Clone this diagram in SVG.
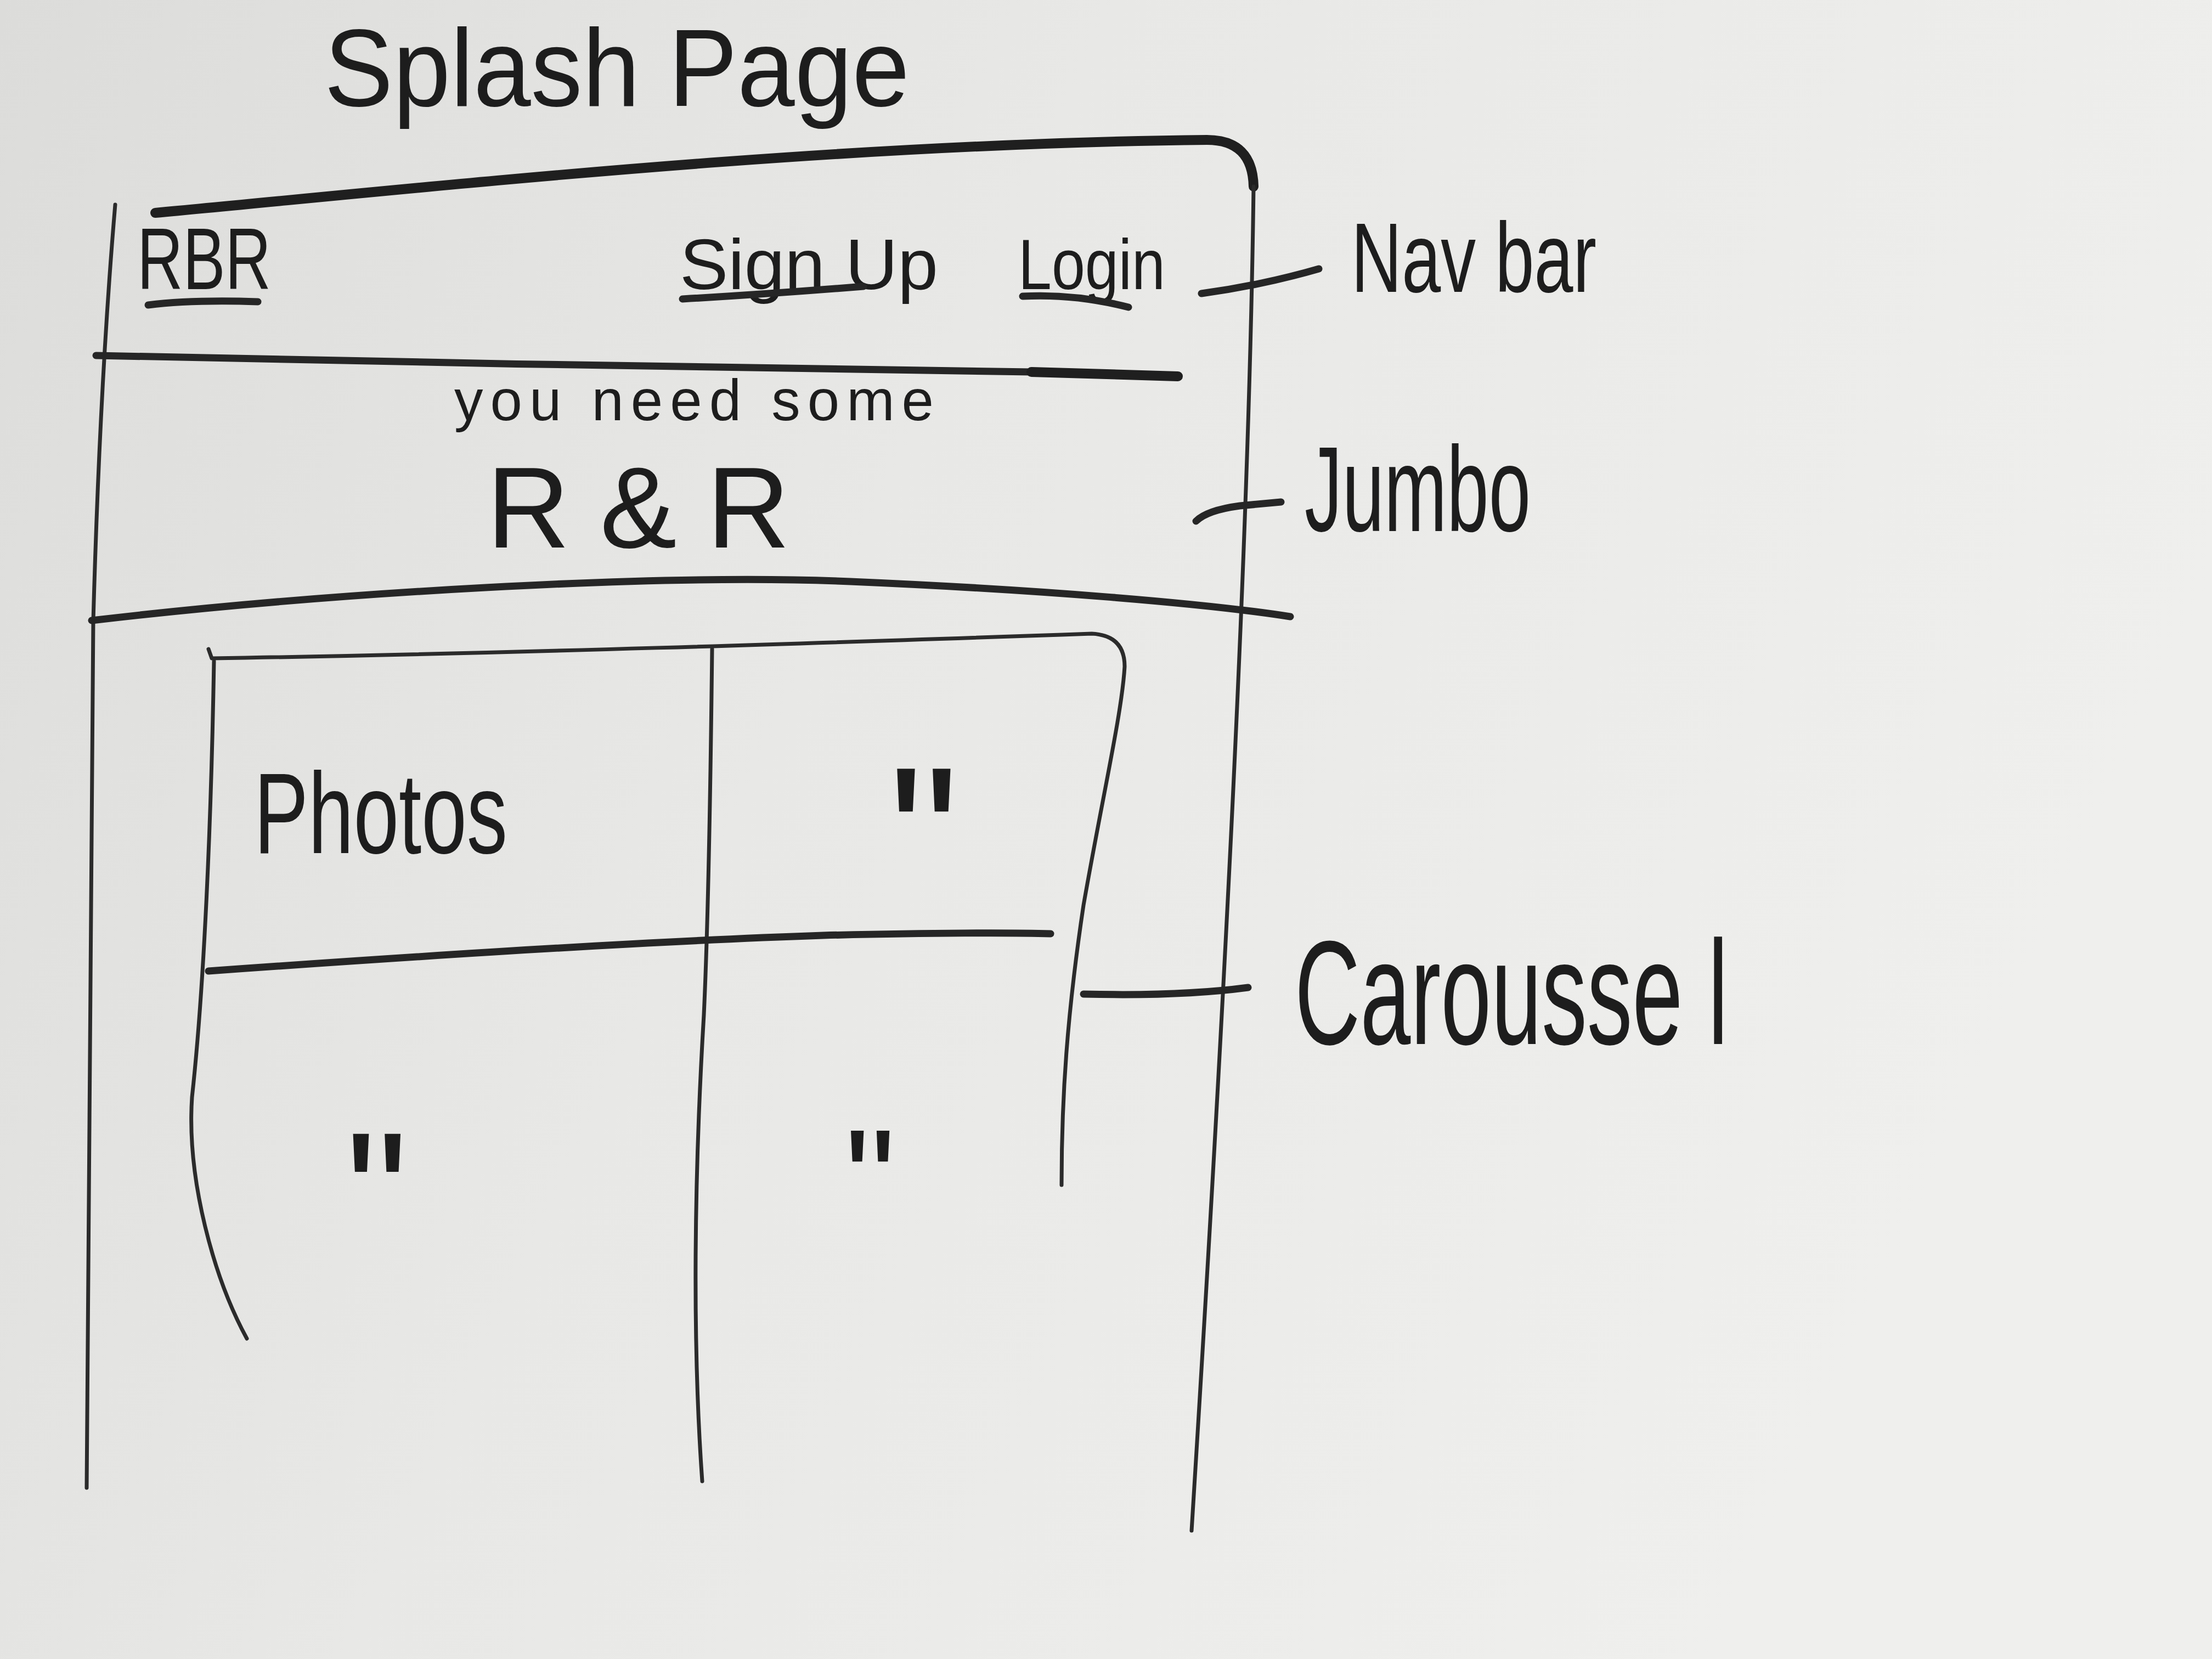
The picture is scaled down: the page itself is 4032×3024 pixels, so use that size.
<svg xmlns="http://www.w3.org/2000/svg" width="4032" height="3024" viewBox="0 0 4032 3024">
  <defs>
    <linearGradient id="paper" x1="0" y1="0" x2="1" y2="0.35">
      <stop offset="0" stop-color="#dcdcda"/>
      <stop offset="0.45" stop-color="#e8e8e6"/>
      <stop offset="1" stop-color="#efefed"/>
    </linearGradient>
    <linearGradient id="fadeDown" x1="0" y1="0" x2="0" y2="1">
      <stop offset="0" stop-color="#2a2a2a" stop-opacity="1"/>
      <stop offset="0.85" stop-color="#2a2a2a" stop-opacity="0.9"/>
      <stop offset="1" stop-color="#2a2a2a" stop-opacity="0.25"/>
    </linearGradient>
  </defs>
  <style>
    .thin { fill: none; stroke: #2b2b2b; stroke-width: 7; stroke-linecap: round; stroke-linejoin: round; }
    .marker { fill: none; stroke: #262626; stroke-width: 13; stroke-linecap: round; stroke-linejoin: round; }
    .heavy { fill: none; stroke: #1f1f1f; stroke-width: 18; stroke-linecap: round; stroke-linejoin: round; }
    .hand { font-family: "Liberation Sans", "DejaVu Sans", sans-serif; fill: #1d1d1d; }
  </style>

  <rect x="0" y="0" width="4032" height="3024" fill="url(#paper)"/>

  <g id="title">
    <text class="hand" x="591" y="193" font-size="200" textLength="1067" lengthAdjust="spacingAndGlyphs">Splash Page</text>
  </g>

  <g id="page-frame">
    <path class="heavy" d="M283,388 C 800,340 1500,262 2200,255 Q 2283,255 2285,340"/>
    <path class="thin" d="M2285,340 C 2278,900 2240,1700 2172,2790"/>
    <path class="thin" stroke="url(#fadeDown)" d="M210,373 Q 182,700 170,1131 L 158,2712"/>
  </g>

  <g id="navbar">
    <text class="hand" x="250" y="527" font-size="160" textLength="244" lengthAdjust="spacingAndGlyphs">RBR</text>
    <path class="marker" d="M270,556 Q 350,546 470,550"/>
    <text class="hand" x="1239" y="527" font-size="130" textLength="471" lengthAdjust="spacingAndGlyphs">Sign Up</text>
    <path class="marker" d="M1244,545 Q 1400,536 1574,522"/>
    <text class="hand" x="1856" y="527" font-size="130" textLength="268" lengthAdjust="spacingAndGlyphs">Login</text>
    <path class="marker" d="M1864,540 Q 1960,535 2057,560"/>
    <path class="marker" d="M175,648 C 700,660 1400,672 1880,678"/>
    <path class="heavy" d="M1880,678 L 2147,686"/>
  </g>

  <g id="jumbo">
    <text class="hand" x="828" y="766" font-size="105" textLength="874">you need some</text>
    <text class="hand" x="887" y="998" font-size="210" textLength="553">R&amp;R</text>
    <path class="marker" d="M167,1131 C 600,1080 1200,1045 1550,1060 C 1900,1075 2200,1100 2352,1124"/>
  </g>

  <g id="carousel">
    <path class="thin" d="M380,1183 L386,1200 C 900,1192 1500,1172 1990,1155 Q 2050,1158 2050,1215 C 2045,1300 2010,1450 1975,1650 C 1945,1850 1935,2000 1935,2160"/>
    <path class="thin" d="M390,1205 C 385,1500 372,1800 350,2000 C 340,2150 390,2330 450,2440"/>
    <path class="thin" stroke="url(#fadeDown)" d="M1298,1183 C 1295,1450 1290,1700 1283,1850 C 1265,2150 1262,2450 1280,2700"/>
    <path class="marker" d="M380,1770 C 800,1740 1200,1715 1500,1705 C 1700,1700 1850,1700 1915,1702"/>
    <text class="hand" x="463" y="1555" font-size="210" textLength="462" lengthAdjust="spacingAndGlyphs">Photos</text>
    <text class="hand" x="1620" y="1649" font-size="360">"</text>
    <text class="hand" x="630" y="2287" font-size="320">"</text>
    <text class="hand" x="1540" y="2240" font-size="260">"</text>
  </g>

  <g id="labels">
    <text class="hand" x="2463" y="532" font-size="180" textLength="447" lengthAdjust="spacingAndGlyphs">Nav bar</text>
    <text class="hand" x="2378" y="968" font-size="220" textLength="412" lengthAdjust="spacingAndGlyphs">Jumbo</text>
    <text class="hand" x="2360" y="1903" font-size="270" textLength="790" lengthAdjust="spacingAndGlyphs">Carousse l</text>
  </g>

  <g id="connectors">
    <path class="marker" d="M2190,535 Q 2300,520 2404,490"/>
    <path class="marker" d="M2180,950 Q 2200,930 2260,922 L 2335,915"/>
    <path class="marker" d="M1975,1812 C 2100,1815 2200,1810 2275,1800"/>
  </g>
</svg>
